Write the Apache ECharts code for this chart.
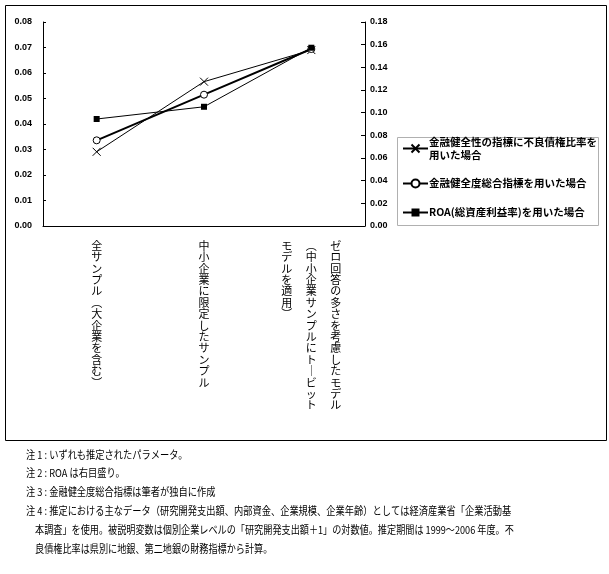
<!DOCTYPE html>
<html><head><meta charset="utf-8">
<script src="https://cdn.jsdelivr.net/npm/echarts@6/dist/echarts.min.js"></script>
<style>html,body{margin:0;padding:0;background:#fff}#c{width:609px;height:574px}</style>
</head><body><div id="c"></div>
<script>
var categories = ['全サンプル（大企業を含む）', '中小企業に限定したサンプル', 'ゼロ回答の多さを考慮したモデル（中小企業サンプルにトービットモデルを適用）'];
var seriesNames = ['金融健全性の指標に不良債権比率を\n用いた場合', '金融健全度総合指標を用いた場合', 'ROA(総資産利益率)を用いた場合'];
var npl = [0.0291, 0.0566, 0.0690];
var composite = [0.0336, 0.0515, 0.0694];
var roa = [0.0944, 0.1052, 0.1573];
var leftTicks = [0, 0.08, 0.01];
var rightTicks = [0, 0.18, 0.02];
var notes = [
  '注 1 : いずれも推定されたパラメータ。',
  '注 2 : ROA は右目盛り。',
  '注 3 : 金融健全度総合指標は筆者が独自に作成',
  '注 4 : 推定における主なデータ（研究開発支出額、内部資金、企業規模、企業年齢）としては経済産業省「企業活動基',
  '本調査」を使用。被説明変数は個別企業レベルの「研究開発支出額＋1」の対数値。推定期間は 1999～2006 年度。不',
  '良債権比率は県別に地銀、第二地銀の財務指標から計算。'
];

function vertical(s) {
  var map = {'（': '︵', '）': '︶', 'ー': '｜'};
  var chars = Array.from(s).map(function (c) { return map[c] || c; });
  var cols = [];
  for (var i = 0; i < chars.length; i += 15) cols.push(chars.slice(i, i + 15));
  cols.reverse();
  var n = 0; cols.forEach(function (c) { n = Math.max(n, c.length); });
  var rows = [];
  for (var r = 0; r < n; r++) {
    rows.push(cols.map(function (c) { return c[r] || '　'; }).join('　 '));
  }
  return rows.join('\n');
}

var chart = echarts.init(document.getElementById('c'));
var FONT = '"Noto Sans CJK JP", sans-serif';
function legendFor(i, top, extra) {
  var d = {name: seriesNames[i]};
  if (extra) d.textStyle = extra;
  return {
    show: true, left: 402, top: top, padding: 0, itemWidth: 25, itemHeight: 10,
    itemGap: 0, orient: 'vertical', selectedMode: false,
    textStyle: {fontFamily: FONT, fontSize: 10.5, fontWeight: 'bold', color: '#000', lineHeight: 13, padding: [0, 0, 0, -4]},
    data: [d]
  };
}
var graphics = [
  {type: 'rect', shape: {x: 5.5, y: 5.5, width: 601, height: 435}, style: {fill: 'none', stroke: '#000', lineWidth: 1}, z: -1},
  {type: 'rect', shape: {x: 397.5, y: 137.5, width: 201, height: 88}, style: {fill: '#fff', stroke: '#b0b0b0', lineWidth: 1}, z: 0}
];
var ys = [455, 473, 492, 511, 530, 549];
notes.forEach(function (t, i) {
  graphics.push({type: 'text', x: i >= 4 ? 35 : 26, y: ys[i], scaleX: i >= 4 ? 0.83 : 0.84, z: 5,
    style: {text: t, fontFamily: FONT, fontSize: 11, fill: '#000', verticalAlign: 'middle'}});
});
chart.setOption({
  animation: false,
  grid: {left: 43, right: 244, top: 22, bottom: 348, containLabel: false},
  graphic: graphics,
  legend: [
    legendFor(0, 129, {padding: [13, 0, 0, -4]}),
    legendFor(1, 177),
    legendFor(2, 206)
  ],
  xAxis: {
    type: 'category', data: categories, boundaryGap: true,
    axisLine: {lineStyle: {color: '#000', width: 1}},
    axisTick: {inside: true, length: 5, lineStyle: {color: '#000'}},
    axisLabel: {interval: 0, margin: 14, fontFamily: FONT, fontSize: 11, lineHeight: 11.4, color: '#000', align: 'center', verticalAlign: 'top',
      formatter: function (v) { return vertical(v); }}
  },
  yAxis: [
    {type: 'value', min: leftTicks[0], max: leftTicks[1], interval: leftTicks[2], position: 'left',
      axisLine: {show: true, lineStyle: {color: '#000'}}, splitLine: {show: false},
      axisTick: {show: true, inside: true, length: 3, lineStyle: {color: '#000'}},
      axisLabel: {margin: 11, fontFamily: '"Liberation Sans", Arial, sans-serif', fontSize: 9, fontWeight: 'bold', color: '#000',
        formatter: function (v) { return v.toFixed(2); }}},
    {type: 'value', min: rightTicks[0], max: rightTicks[1], interval: rightTicks[2], position: 'right',
      axisLine: {show: true, lineStyle: {color: '#000'}}, splitLine: {show: false},
      axisTick: {show: true, inside: true, length: 4, lineStyle: {color: '#000'}},
      axisLabel: {margin: 5, fontFamily: '"Liberation Sans", Arial, sans-serif', fontSize: 9, fontWeight: 'bold', color: '#000',
        formatter: function (v) { return v.toFixed(2); }}}
  ],
  series: [
    {name: seriesNames[0], type: 'line', data: npl, yAxisIndex: 0, symbol: 'path://M0,0L10,10M10,0L0,10', symbolSize: 8,
      lineStyle: {color: '#000', width: 1}, itemStyle: {color: '#000', borderColor: '#000', borderWidth: 1}, z: 3},
    {name: seriesNames[1], type: 'line', data: composite, yAxisIndex: 0, symbol: 'circle', symbolSize: 7,
      lineStyle: {color: '#000', width: 2}, itemStyle: {color: '#fff', borderColor: '#000', borderWidth: 1}, z: 4},
    {name: seriesNames[2], type: 'line', data: roa, yAxisIndex: 1, symbol: 'rect', symbolSize: 6,
      lineStyle: {color: '#000', width: 1}, itemStyle: {color: '#000'}, z: 5}
  ]
});
</script></body></html>
